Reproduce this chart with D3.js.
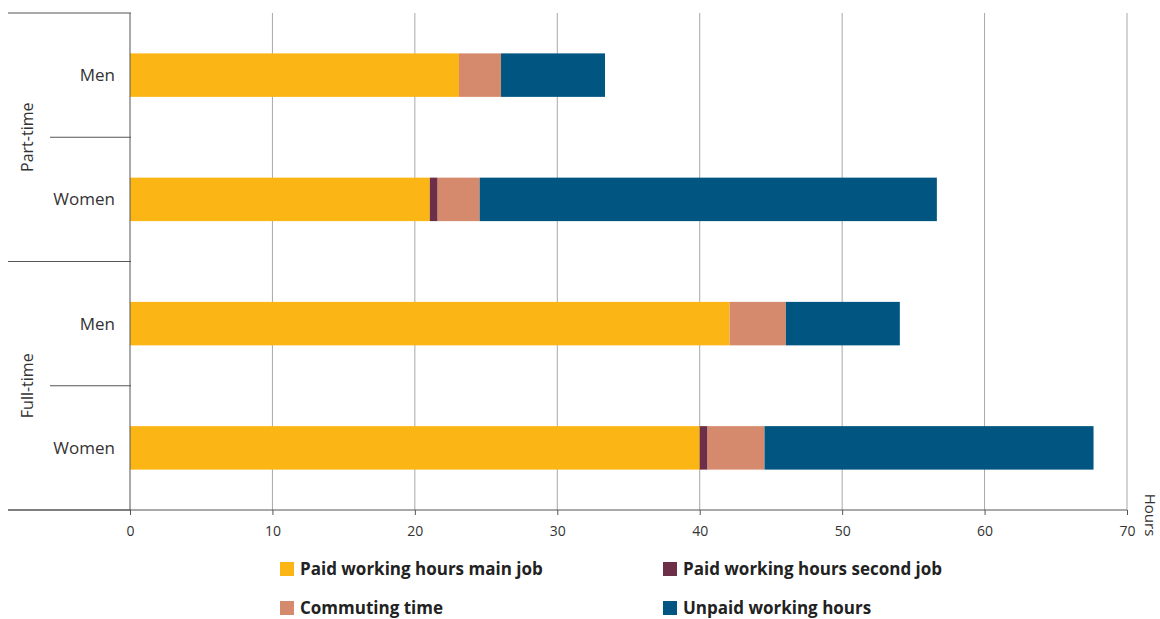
<!DOCTYPE html>
<html>
<head>
<meta charset="utf-8">
<script src="https://cdn.jsdelivr.net/npm/d3@7"></script>
<style>
  html, body { margin: 0; padding: 0; background: #fff; }
  svg { display: block; }
  text { font-family: "Open Sans", "DejaVu Sans", sans-serif; }
</style>
</head>
<body>
<svg id="chart" width="1160" height="619"></svg>
<script>
// Weekly hours by working-time arrangement and sex
const groups = ["Part-time", "Full-time"];
const sexes = ["Men", "Women"];
const rowKeys = ["Part-time|Men", "Part-time|Women", "Full-time|Men", "Full-time|Women"];

const seriesNames = ["Paid working hours main job", "Paid working hours second job", "Commuting time", "Unpaid working hours"];
const seriesColors = ["#fbb616", "#6c2f47", "#d68a6d", "#005581"];

const mainJob   = [23.1, 21.05, 42.1, 40.0];
const secondJob = [0.0, 0.55, 0.0, 0.55];
const commuting = [2.95, 2.95, 3.95, 4.0];
const unpaid    = [7.3, 32.1, 8.0, 23.1];

const xTicks = [0, 10, 20, 30, 40, 50, 60, 70];
const xTitle = "Hours";

const rows = rowKeys.map((k, i) => ({
  key: k,
  group: k.split("|")[0],
  sex: k.split("|")[1],
  [seriesNames[0]]: mainJob[i],
  [seriesNames[1]]: secondJob[i],
  [seriesNames[2]]: commuting[i],
  [seriesNames[3]]: unpaid[i]
}));

const svg = d3.select("#chart");
const plotLeft = 130, plotRight = 1127, plotTop = 13, plotBottom = 510;

const x = d3.scaleLinear().domain([0, 70]).range([plotLeft, plotRight]);
const y = d3.scaleBand().domain(rowKeys).range([plotTop, plotBottom]).paddingInner(0.65).paddingOuter(0.325);
const color = d3.scaleOrdinal().domain(seriesNames).range(seriesColors);

// vertical gridlines
svg.append("g").selectAll("line").data(xTicks.filter(t => t > 0)).join("line")
  .attr("x1", d => x(d)).attr("x2", d => x(d))
  .attr("y1", plotTop).attr("y2", plotBottom)
  .attr("stroke", "#a8a8a8").attr("stroke-width", 1);

// stacked bars
const stack = d3.stack().keys(seriesNames);
const layers = stack(rows);
svg.append("g").selectAll("g").data(layers).join("g")
  .attr("fill", d => color(d.key))
  .selectAll("rect").data(d => d).join("rect")
  .attr("x", d => x(d[0]))
  .attr("width", d => Math.max(0, x(d[1]) - x(d[0])))
  .attr("y", d => y(d.data.key))
  .attr("height", y.bandwidth());

// x axis
const xAxis = d3.axisBottom(x).tickValues(xTicks).tickSize(5).tickPadding(11).tickFormat(d3.format("d"));
const gx = svg.append("g").attr("transform", `translate(0,${plotBottom})`).call(xAxis);
gx.select(".domain").remove();
gx.selectAll(".tick line").attr("stroke", "#555");
gx.selectAll(".tick text").attr("font-size", 14).attr("fill", "#333");
svg.append("line").attr("x1", 8).attr("x2", plotRight).attr("y1", plotBottom).attr("y2", plotBottom)
  .attr("stroke", "#555").attr("stroke-width", 1);

// left axis line
svg.append("line").attr("x1", plotLeft).attr("x2", plotLeft).attr("y1", plotTop).attr("y2", plotBottom)
  .attr("stroke", "#555").attr("stroke-width", 1);

// category separators: group boundaries span the full label area, sex boundaries are shorter
const step = y.step();
const groupBounds = [plotTop, plotTop + 2 * step, plotBottom];
const innerBounds = [plotTop + step, plotTop + 3 * step];
svg.append("g").selectAll("line").data(groupBounds).join("line")
  .attr("x1", 8).attr("x2", plotLeft + 1).attr("y1", d => d).attr("y2", d => d)
  .attr("stroke", "#555");
svg.append("g").selectAll("line").data(innerBounds).join("line")
  .attr("x1", 50).attr("x2", plotLeft + 1).attr("y1", d => d).attr("y2", d => d)
  .attr("stroke", "#555");

// sex labels
svg.append("g").selectAll("text").data(rows).join("text")
  .attr("x", 115).attr("y", d => y(d.key) + y.bandwidth() / 2)
  .attr("dy", "0.35em").attr("text-anchor", "end")
  .attr("font-size", 17).attr("fill", "#333")
  .text(d => d.sex);

// group labels (rotated)
svg.append("g").selectAll("text").data(groups).join("text")
  .attr("transform", (d, i) => `translate(27,${plotTop + (2 * i + 1) * step}) rotate(-90)`)
  .attr("dy", "0.35em").attr("text-anchor", "middle")
  .attr("font-size", 16).attr("fill", "#333")
  .text(d => d);

// axis title
svg.append("text")
  .attr("transform", `translate(1150,515) rotate(90)`)
  .attr("dy", "0.35em").attr("text-anchor", "middle")
  .attr("font-size", 15).attr("fill", "#333")
  .text(xTitle);

// legend
const legendPos = [[280, 569], [663, 569], [280, 608], [663, 608]];
const lg = svg.append("g").selectAll("g").data(seriesNames).join("g")
  .attr("transform", (d, i) => `translate(${legendPos[i][0]},${legendPos[i][1]})`);
lg.append("rect").attr("x", 0).attr("y", -7).attr("width", 14).attr("height", 14)
  .attr("fill", d => color(d));
lg.append("text").attr("x", 20).attr("dy", "0.35em")
  .attr("font-family", "'Liberation Sans Narrow', 'DejaVu Sans Condensed', sans-serif")
  .attr("font-weight", "bold").attr("font-size", 17).attr("fill", "#222")
  .text(d => d);
</script>
</body>
</html>
